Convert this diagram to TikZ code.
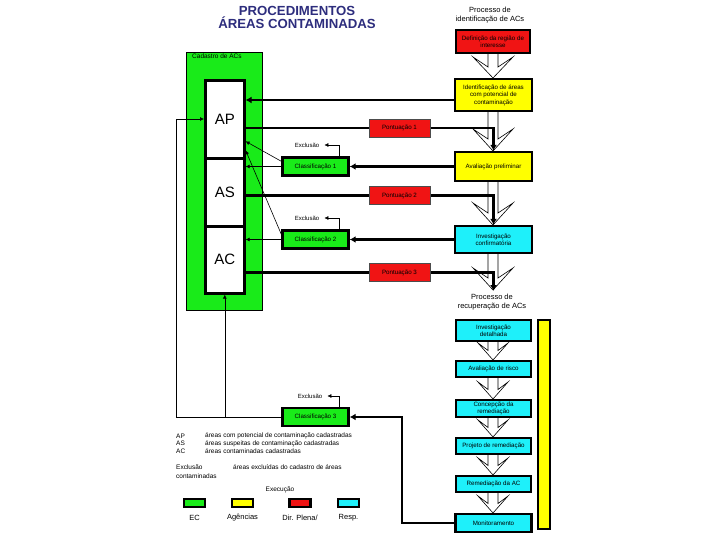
\documentclass[tikz,border=0pt]{standalone}
\usepackage{fontspec}
\setmainfont{Liberation Sans}
\usetikzlibrary{arrows.meta}
\definecolor{cgreen}{RGB}{25,235,25}
\definecolor{cyellow}{RGB}{255,255,0}
\definecolor{cred}{RGB}{240,20,20}
\definecolor{ccyan}{RGB}{30,240,250}
\definecolor{navy}{RGB}{45,45,125}
\pgfdeclarelayer{back}
\pgfdeclarelayer{arr}
\pgfdeclarelayer{lines}
\pgfsetlayers{back,arr,lines,main}
\newcommand\harrow[5]{% cx, ytop, ytip, half width, head height
  \draw[hollow] ({#1-5},#2) -- ({#1-5},{#3-#5+0.5*#4}) -- ({#1-#4},{#3-#5}) -- (#1,#3)
    -- ({#1+#4},{#3-#5}) -- ({#1+5},{#3-#5+0.5*#4}) -- ({#1+5},#2);}
\begin{document}
\begin{tikzpicture}[x=1pt,y=-1pt,
  bx/.style={draw=black,line width=2.4pt,inner sep=0pt,align=center,font=\fontsize{6.2}{7.4}\selectfont},
  rbox/.style={draw=black!70,line width=0.6pt,fill=cred,inner sep=0pt,align=center,font=\fontsize{6.2}{7.4}\selectfont,minimum width=61,minimum height=18},
  gbox/.style={bx,fill=cgreen,minimum width=66,minimum height=18},
  wbox/.style={draw=black,line width=2.6pt,fill=white,inner sep=0pt,font=\fontsize{15}{15}\selectfont,minimum width=39,anchor=north west},
  hollow/.style={draw=black,line width=0.6pt,fill=white,line join=miter},
  thk/.style={line width=2.6pt,-{Latex[length=6pt,width=7pt]}},
  thn/.style={line width=0.6pt,-{Latex[length=4pt,width=4pt]}},
  txt/.style={inner sep=0pt,font=\fontsize{6.5}{8}\selectfont},
  sw/.style={draw=black,line width=2.4pt,minimum width=21,minimum height=8,inner sep=0pt},
]
\useasboundingbox (0,0) rectangle (720,540);

% titles
\node[inner sep=0pt,align=center,text=navy,font=\fontsize{13.2}{13.5}\bfseries] (tit) at (297,17.5) {PROCEDIMENTOS\\ÁREAS CONTAMINADAS};
\node[inner sep=0pt,align=center,font=\fontsize{7.5}{9.5}\selectfont] (pid) at (490,15) {Processo de\\identificação de ACs};

% green panel
\begin{pgfonlayer}{back}
\node[draw=black,line width=0.6pt,fill=cgreen,minimum width=76,minimum height=258,anchor=north west,inner sep=0pt] (cad) at (186,52) {};
\end{pgfonlayer}
\node[txt,anchor=north west] (cadl) at (192,53.5) {Cadastro de ACs};

% AP AS AC
\node[wbox,minimum height=78] (AP) at (204,79) {AP};
\node[wbox,minimum height=68] (AS) at (204,157) {AS};
\node[wbox,minimum height=67] (AC) at (204,225) {AC};

% right column
\node[bx,fill=cred,minimum width=74,minimum height=23] (def) at (493,41.5) {Definição da região de\\interesse};
\node[bx,fill=cyellow,minimum width=77,minimum height=32] (ident) at (493.5,95) {Identificação de áreas\\com potencial de\\contaminação};
\node[bx,fill=cyellow,minimum width=77,minimum height=29] (aval) at (493.5,166.5) {Avaliação preliminar};
\node[bx,fill=ccyan,minimum width=77,minimum height=27] (invc) at (493.5,239.5) {Investigação\\confirmatória};
\node[inner sep=0pt,align=center,font=\fontsize{7.5}{9.5}\selectfont] (prec) at (492,302) {Processo de\\recuperação de ACs};
\node[bx,fill=ccyan,minimum width=75,minimum height=21] (invd) at (493.5,330.5) {Investigação\\detalhada};
\node[bx,fill=ccyan,minimum width=75,minimum height=16] (avr) at (493.5,369) {Avaliação de risco};
\node[bx,fill=ccyan,minimum width=75,minimum height=17] (conc) at (493.5,408.5) {Concepção da\\remediação};
\node[bx,fill=ccyan,minimum width=75,minimum height=16] (proj) at (493.5,446) {Projeto de remediação};
\node[bx,fill=ccyan,minimum width=75,minimum height=16] (remd) at (493.5,484) {Remediação da AC};
\node[bx,fill=ccyan,minimum width=76,minimum height=18] (mon) at (493.5,523) {Monitoramento};
\node[bx,fill=cyellow,minimum width=12,minimum height=209] (ybar) at (544,424.5) {};

% pontuação
\node[rbox] (P1) at (399.5,128) {Pontuação 1};
\node[rbox] (P2) at (399.5,195.5) {Pontuação 2};
\node[rbox] (P3) at (399.5,272.5) {Pontuação 3};

% classificação
\node[gbox] (C1) at (315.5,166.5) {Classificação 1};
\node[gbox] (C2) at (315.5,239.5) {Classificação 2};
\node[gbox] (C3) at (315.5,417) {Classificação 3};
\node[txt,font=\fontsize{6}{7}\selectfont] (ex1) at (307,145) {Exclusão};
\node[txt,font=\fontsize{6}{7}\selectfont] (ex2) at (307,218) {Exclusão};
\node[txt,font=\fontsize{6}{7}\selectfont] (ex3) at (310,396) {Exclusão};

\coordinate (p3e) at (493.5,291);
\coordinate (lft) at (176,119);
\coordinate (mb) at (402,523);

% hollow arrows
\begin{pgfonlayer}{arr}
\harrow{493}{54}{78}{20}{21}
\harrow{493}{112}{151}{20}{22}
\harrow{493}{182}{225}{20}{22}
\harrow{493}{254}{290}{20}{22}
\harrow{493}{342}{360}{15}{17}
\harrow{493}{378}{399}{15}{17}
\harrow{493}{418}{437}{15}{17}
\harrow{493}{455}{475}{15}{17}
\harrow{493}{493}{513}{15}{17}
\end{pgfonlayer}

% connectors
\begin{pgfonlayer}{lines}
\draw[thk] ([yshift=-5pt]ident.west) -- ([yshift=-5pt]ident.west -| AP.east);
\draw[thk] (P1 -| AP.east) -- (P1.center) -| (aval.north);
\draw[thk] (P2 -| AS.east) -- (P2.center) -| (invc.north);
\draw[thk] (P3 -| AC.east) -- (P3.center) -| (p3e);
\draw[thk] (aval.west) -- (aval.west -| C1.east);
\draw[thk] (invc.west) -- (invc.west -| C2.east);
\draw[thk] (mon.west) -- (mb) |- (C3.east);
\draw[thn] (C1.west) -- (C1.west -| AS.east);
\draw[thn] ([yshift=-5pt]C1.north west) -- ([yshift=-22pt]AP.east);
\draw[thn] ([yshift=-5pt]C2.north west) -- ([yshift=-31pt]AP.east);
\draw[thn] (C2.west) -- (C2.west -| AC.east);
\draw[thn] (C3.west) -| (lft) -- (lft -| AP.west);
\draw[thn] (C3.west -| AC.south) -- (AC.south);
\draw[thn] ([xshift=23.5pt]C1.north) |- ([xshift=5pt]ex1.east);
\draw[thn] ([xshift=23.5pt]C2.north) |- ([xshift=5pt]ex2.east);
\draw[thn] ([xshift=23.5pt]C3.north) |- ([xshift=5pt]ex3.east);
\end{pgfonlayer}

% legend
\node[txt,anchor=west] (lap) at (176,436) {AP};
\node[txt,anchor=west] (las) at (176,443.5) {AS};
\node[txt,anchor=west] (lac) at (176,451) {AC};
\node[txt,anchor=west] (dap) at (205,436) {áreas com potencial de contaminação cadastradas};
\node[txt,anchor=west] (das) at (205,443.5) {áreas suspeitas de contaminação cadastradas};
\node[txt,anchor=west] (dac) at (205,451) {áreas contaminadas cadastradas};
\node[txt,anchor=west] (lex) at (176,467) {Exclusão};
\node[txt,anchor=west] (dex) at (233,467) {áreas excluídas do cadastro de áreas};
\node[txt,anchor=west] (dex2) at (176,476) {contaminadas};
\node[txt] (exe) at (280,490) {Execução};
\node[sw,fill=cgreen] (s1) at (194.5,503) {};
\node[sw,fill=cyellow] (s2) at (242.5,503) {};
\node[sw,fill=cred] (s3) at (300,503) {};
\node[sw,fill=ccyan] (s4) at (348.5,503) {};
\node[txt,font=\fontsize{7.5}{8}\selectfont] (l1) at (194.5,518) {EC};
\node[txt,font=\fontsize{7.5}{8}\selectfont] (l2) at (242.5,518) {Agências};
\node[txt,font=\fontsize{7.5}{8}\selectfont] (l3) at (300,518) {Dir. Plena/};
\node[txt,font=\fontsize{7.5}{8}\selectfont] (l4) at (348.5,518) {Resp.};
\end{tikzpicture}
\end{document}
